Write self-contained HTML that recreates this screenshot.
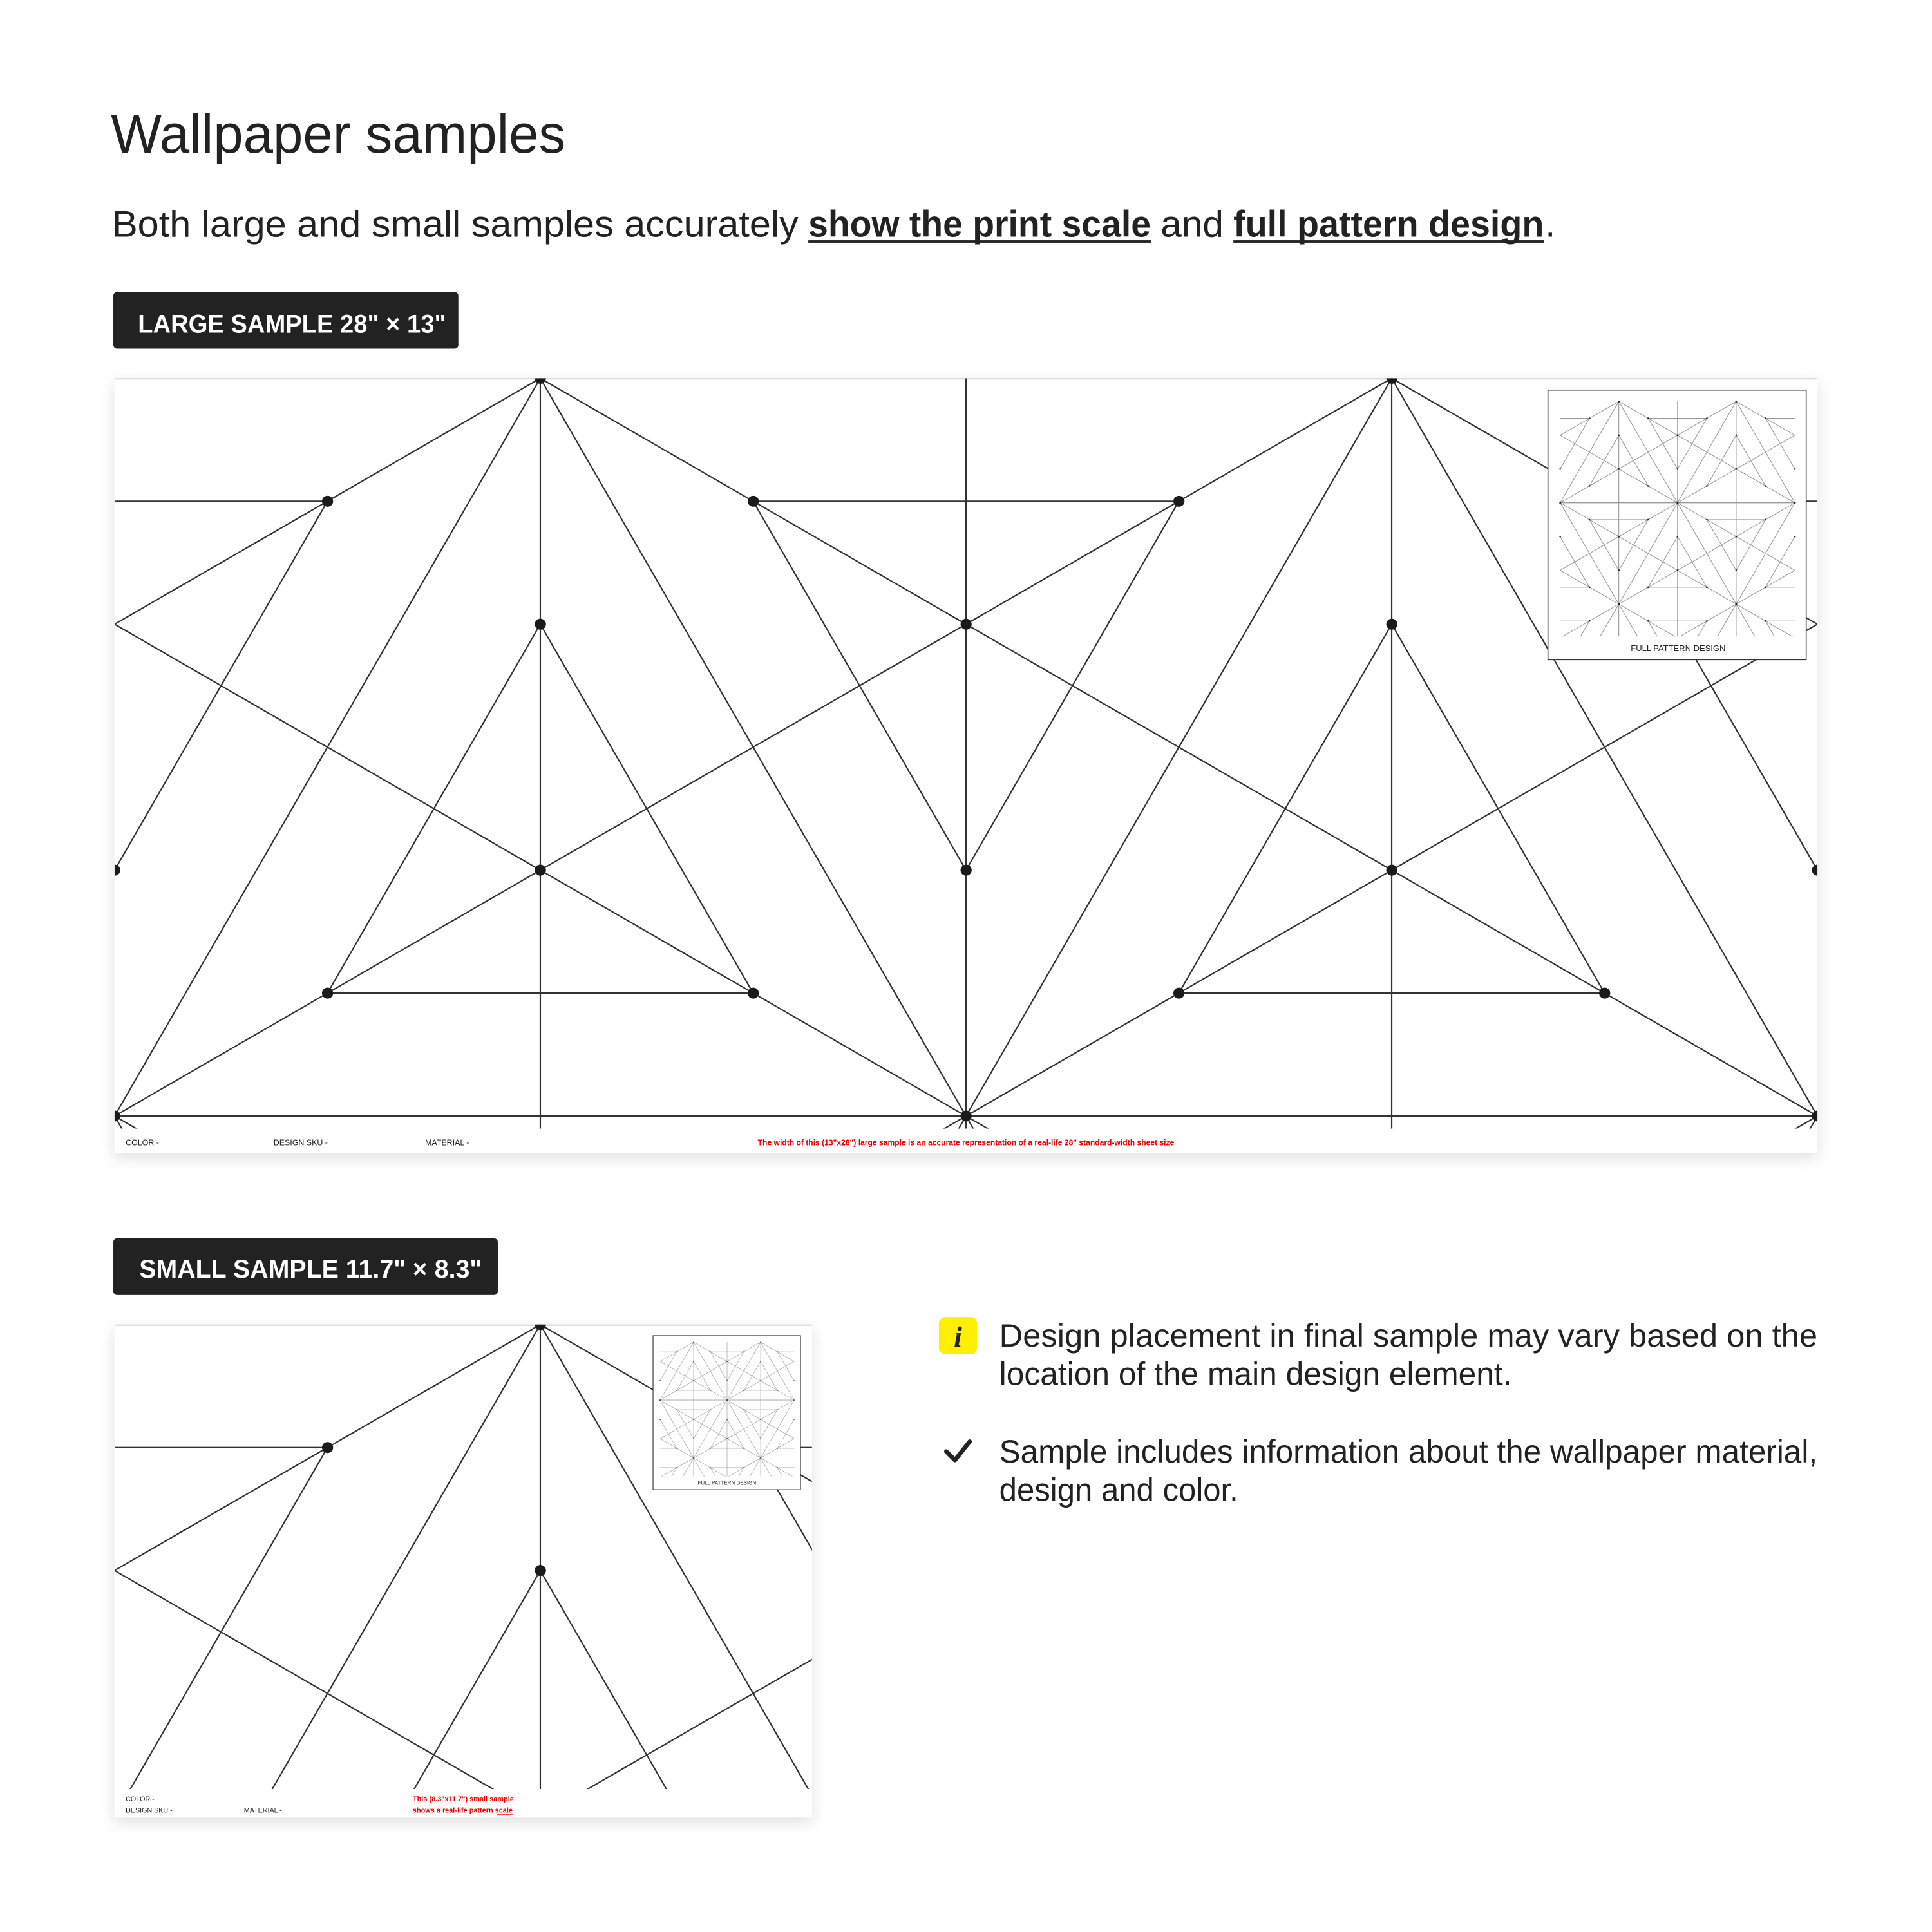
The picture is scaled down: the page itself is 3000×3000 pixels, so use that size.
<!DOCTYPE html>
<html><head><meta charset="utf-8"><style>
html,body{margin:0;padding:0;background:#fff;width:3000px;height:3000px;overflow:hidden;}
svg{display:block;}
</style></head><body>
<svg xmlns="http://www.w3.org/2000/svg" xmlns:xlink="http://www.w3.org/1999/xlink" width="3000" height="3000" viewBox="0 0 1568 1568" font-family="'Liberation Sans', sans-serif">
<defs>
<path id="tl" fill="none" vector-effect="non-scaling-stroke" d="M0 1H1M3 1H5M7 1H8M1 5H3M5 5H7M0 6H8M2 0V6M4 0V6M6 0V6M0 2L2 0M6 0L8 2M0 6L6 0M2 0L8 6M0 2L4 6M4 6L8 2M2 0L0 6M2 0L4 6M6 0L4 6M6 0L8 6M1 1L0 4M3 1L4 4M5 1L4 4M7 1L8 4M2 2L1 5M2 2L3 5M6 2L5 5M6 2L7 5"/>
<path id="td" fill="none" stroke-linecap="round" vector-effect="non-scaling-stroke" d="M2 0h.001M6 0h.001M1 1h.001M3 1h.001M5 1h.001M7 1h.001M2 2h.001M4 2h.001M6 2h.001M0 4h.001M2 4h.001M4 4h.001M6 4h.001M8 4h.001M1 5h.001M3 5h.001M5 5h.001M7 5h.001M0 6h.001M4 6h.001M8 6h.001"/>
<clipPath id="cL"><rect x="93" y="307" width="1382" height="609"/></clipPath>
<clipPath id="cS"><rect x="93" y="1075" width="566" height="377"/></clipPath>
<clipPath id="cT1"><rect x="1265.5" y="325" width="192" height="191.5"/></clipPath>
<clipPath id="cT2"><rect x="535.2" y="1088.8" width="109.6" height="109.4"/></clipPath>
<filter id="sh" x="-10%" y="-10%" width="120%" height="130%"><feDropShadow dx="0" dy="4" stdDeviation="6" flood-color="#000" flood-opacity="0.12"/></filter>
</defs>

<text x="90" y="124" font-size="44" fill="#222" textLength="369" lengthAdjust="spacingAndGlyphs">Wallpaper samples</text>
<g font-size="30" fill="#222">
<text x="91" y="192" textLength="557" lengthAdjust="spacingAndGlyphs">Both large and small samples accurately</text>
<text x="656" y="192" font-weight="bold" textLength="278" lengthAdjust="spacingAndGlyphs">show the print scale</text>
<text x="942" y="192" textLength="51" lengthAdjust="spacingAndGlyphs">and</text>
<text x="1001" y="192" font-weight="bold" textLength="252" lengthAdjust="spacingAndGlyphs">full pattern design</text>
<text x="1254" y="192">.</text>
</g>
<rect x="656" y="195" width="278" height="2" fill="#222"/>
<rect x="1001" y="195" width="252" height="2" fill="#222"/>

<rect x="92" y="237" width="280" height="46" rx="3" fill="#222"/>
<text x="112" y="270" font-size="21" font-weight="bold" fill="#fff" textLength="250" lengthAdjust="spacingAndGlyphs">LARGE SAMPLE 28" × 13"</text>

<rect x="93" y="307" width="1382" height="629" fill="#fff" filter="url(#sh)"/>
<line x1="93" y1="307.5" x2="1475" y2="307.5" stroke="#ccc" stroke-width="1"/>
<g clip-path="url(#cL)">
  <use xlink:href="#tl" transform="translate(93,307) scale(172.75,99.8)" stroke="#333" stroke-width="2.2"/>
  <use xlink:href="#tl" transform="translate(93,1504.6) scale(172.75,-99.8)" stroke="#333" stroke-width="2.2"/>
  <use xlink:href="#td" transform="translate(93,307) scale(172.75,99.8)" stroke="#1a1a1a" stroke-width="17"/>
</g>
<rect x="93" y="916" width="1382" height="20" fill="#fff"/>
<g font-size="6.5" fill="#222">
<text x="102" y="929.5">COLOR -</text>
<text x="222" y="929.5">DESIGN SKU -</text>
<text x="345" y="929.5">MATERIAL -</text>
<text x="615" y="929.5" fill="#e00" font-weight="bold" textLength="338" lengthAdjust="spacingAndGlyphs">The width of this (13"x28") large sample is an accurate representation of a real-life 28" standard-width sheet size</text>
</g>

<rect x="1256.3" y="316.6" width="209.6" height="218.8" fill="#fff" stroke="#333" stroke-width="0.8"/>
<g clip-path="url(#cT1)">
  <use xlink:href="#tl" transform="translate(1266.2,325.8) scale(23.81,13.71)" stroke="#999" stroke-width="1.1"/>
  <use xlink:href="#tl" transform="translate(1266.2,490.3) scale(23.81,-13.71)" stroke="#999" stroke-width="1.1"/>
  <use xlink:href="#tl" transform="translate(1266.2,490.3) scale(23.81,13.71)" stroke="#999" stroke-width="1.1"/>
  <use xlink:href="#td" transform="translate(1266.2,325.8) scale(23.81,13.71)" stroke="#222" stroke-width="2.6"/>
  <use xlink:href="#td" transform="translate(1266.2,490.3) scale(23.81,-13.71)" stroke="#222" stroke-width="2.6"/>
  <use xlink:href="#td" transform="translate(1266.2,490.3) scale(23.81,13.71)" stroke="#222" stroke-width="2.6"/>
</g>
<text x="1362" y="528.5" font-size="6.8" fill="#222" text-anchor="middle">FULL PATTERN DESIGN</text>

<rect x="92" y="1005" width="312" height="46" rx="3" fill="#222"/>
<text x="113" y="1037" font-size="21" font-weight="bold" fill="#fff" textLength="278" lengthAdjust="spacingAndGlyphs">SMALL SAMPLE 11.7" × 8.3"</text>

<rect x="93" y="1075" width="566" height="400" fill="#fff" filter="url(#sh)"/>
<line x1="93" y1="1075.5" x2="659" y2="1075.5" stroke="#ccc" stroke-width="1"/>
<g clip-path="url(#cS)">
  <use xlink:href="#tl" transform="translate(93,1075) scale(172.75,99.8)" stroke="#333" stroke-width="2.2"/>
  <use xlink:href="#td" transform="translate(93,1075) scale(172.75,99.8)" stroke="#1a1a1a" stroke-width="17"/>
</g>
<g font-size="5.6" fill="#222">
<text x="102" y="1462">COLOR -</text>
<text x="102" y="1471">DESIGN SKU -</text>
<text x="198" y="1471">MATERIAL -</text>
<text x="335" y="1462" fill="#e00" font-weight="bold" textLength="82" lengthAdjust="spacingAndGlyphs">This (8.3"x11.7") small sample</text>
<text x="335" y="1471" fill="#e00" font-weight="bold" textLength="81" lengthAdjust="spacingAndGlyphs">shows a real-life pattern scale</text>
</g>
<rect x="403" y="1472.5" width="13" height="0.6" fill="#e00"/>

<rect x="530" y="1084" width="119.7" height="125" fill="#fff" stroke="#333" stroke-width="0.6"/>
<g clip-path="url(#cT2)">
  <use xlink:href="#tl" transform="translate(535.7,1089.3) scale(13.6,7.83)" stroke="#aaa" stroke-width="0.8"/>
  <use xlink:href="#tl" transform="translate(535.7,1183.3) scale(13.6,-7.83)" stroke="#aaa" stroke-width="0.8"/>
  <use xlink:href="#tl" transform="translate(535.7,1183.3) scale(13.6,7.83)" stroke="#aaa" stroke-width="0.8"/>
  <use xlink:href="#td" transform="translate(535.7,1089.3) scale(13.6,7.83)" stroke="#222" stroke-width="1.6"/>
  <use xlink:href="#td" transform="translate(535.7,1183.3) scale(13.6,-7.83)" stroke="#222" stroke-width="1.6"/>
  <use xlink:href="#td" transform="translate(535.7,1183.3) scale(13.6,7.83)" stroke="#222" stroke-width="1.6"/>
</g>
<text x="590" y="1205" font-size="4.2" fill="#222" text-anchor="middle">FULL PATTERN DESIGN</text>

<rect x="762" y="1069" width="31" height="30" rx="5" fill="#ffef00"/>
<text x="777.5" y="1093" font-size="24" font-weight="bold" font-style="italic" font-family="'Liberation Serif', serif" fill="#222" text-anchor="middle">i</text>
<g font-size="26" fill="#222">
<text x="811" y="1093" textLength="664" lengthAdjust="spacingAndGlyphs">Design placement in final sample may vary based on the</text>
<text x="811" y="1124" textLength="416" lengthAdjust="spacingAndGlyphs">location of the main design element.</text>
<text x="811" y="1187" textLength="664" lengthAdjust="spacingAndGlyphs">Sample includes information about the wallpaper material,</text>
<text x="811" y="1218" textLength="194" lengthAdjust="spacingAndGlyphs">design and color.</text>
</g>
<path d="M768 1178 L775 1185 L787 1170" fill="none" stroke="#222" stroke-width="3.6" stroke-linecap="round" stroke-linejoin="round"/>
</svg>
</body></html>
